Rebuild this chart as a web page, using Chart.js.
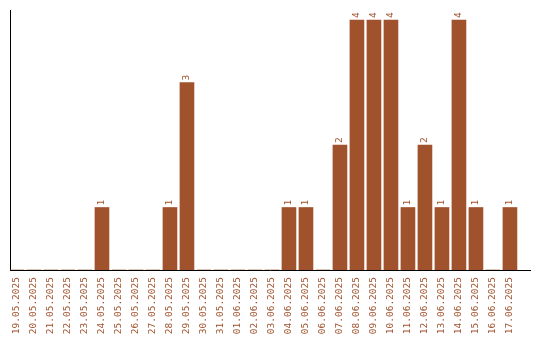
<!DOCTYPE html>
<html>
<head>
<meta charset="utf-8">
<script src="https://cdn.jsdelivr.net/npm/chart.js@4"></script>
<style>
  html, body { margin: 0; padding: 0; background: #fff; }
  #wrap { width: 540px; height: 340px; }
</style>
</head>
<body>
<div id="wrap"><canvas id="c" width="540" height="340"></canvas></div>
<script>
const labels = ["19.05.2025","20.05.2025","21.05.2025","22.05.2025","23.05.2025","24.05.2025","25.05.2025","26.05.2025","27.05.2025","28.05.2025","29.05.2025","30.05.2025","31.05.2025","01.06.2025","02.06.2025","03.06.2025","04.06.2025","05.06.2025","06.06.2025","07.06.2025","08.06.2025","09.06.2025","10.06.2025","11.06.2025","12.06.2025","13.06.2025","14.06.2025","15.06.2025","16.06.2025","17.06.2025"];
const values = [0,0,0,0,0,1,0,0,0,1,3,0,0,0,0,0,1,1,0,2,4,4,4,1,2,1,4,1,0,1];

const COLOR = '#A0522D';
const FONT = "'DejaVu Sans Mono', monospace";

const valueLabels = {
  id: 'valueLabels',
  afterDatasetsDraw(chart) {
    const ctx = chart.ctx;
    const meta = chart.getDatasetMeta(0);
    ctx.save();
    ctx.fillStyle = COLOR;
    ctx.font = "9.5px " + FONT;
    ctx.textAlign = 'left';
    ctx.textBaseline = 'middle';
    meta.data.forEach((el, i) => {
      const v = values[i];
      if (!v) return;
      ctx.save();
      ctx.translate(el.x, el.y - 2);
      ctx.rotate(-Math.PI / 2);
      ctx.fillText(String(v), 0, 0);
      ctx.restore();
    });
    ctx.restore();
  }
};

new Chart(document.getElementById('c'), {
  type: 'bar',
  data: {
    datasets: [{
      data: values.map((v, i) => ({ x: i, y: v })),
      backgroundColor: COLOR,
      borderWidth: 0,
      barThickness: 14
    }]
  },
  options: {
    responsive: false,
    animation: false,
    layout: { padding: { top: 10, right: 10, left: 10, bottom: 0 } },
    plugins: { legend: { display: false }, tooltip: { enabled: false } },
    scales: {
      x: {
        type: 'linear',
        min: -0.41,
        max: 30.18,
        offset: false,
        grid: { display: false, drawTicks: false },
        border: { display: true, color: '#000', width: 1 },
        afterFit: s => { s.height = 70; },
        afterBuildTicks: axis => { axis.ticks = labels.map((_, i) => ({ value: i })); },
        ticks: {
          autoSkip: false,
          minRotation: 90,
          maxRotation: 90,
          padding: 7,
          color: COLOR,
          font: { family: FONT, size: 9.5 },
          callback: (v) => labels[v]
        }
      },
      y: {
        min: 0,
        max: 4.16,
        grid: { display: false, drawTicks: false },
        border: { display: true, color: '#000', width: 1 },
        ticks: { display: false }
      }
    }
  },
  plugins: [valueLabels]
});
</script>
</body>
</html>
